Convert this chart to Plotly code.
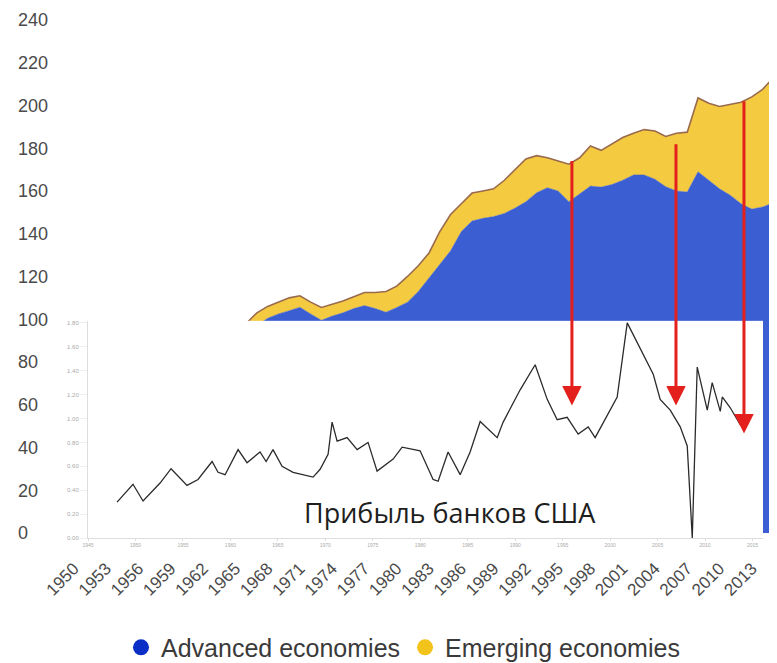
import plotly.graph_objects as go

# Основной график (стек): годы и значения
years = list(range(1966, 2017))
advanced = [92, 97, 100.5, 102.5, 104, 105.6, 102.5, 99.5, 101.5, 103,
            105, 106.4, 105, 103.3, 105.5, 108, 113, 119.5, 125.5, 132,
            141, 146, 147.2, 148, 149.5, 152, 155, 159.2, 161.5, 160,
            155, 158.5, 162.3, 161.8, 163, 165, 167.5, 167.5, 165.5, 162,
            160, 159.5, 169, 165, 161, 158, 154, 151.5, 152.5, 154.5, 156]
emerging = [6, 6, 5.5, 5.5, 6, 5.4, 5.5, 6, 5.5, 5.5,
            5.5, 6.1, 7.5, 9.7, 10, 12, 12, 11.5, 15.5, 17,
            13, 13, 12.8, 13, 15.5, 18, 20, 17.3, 14, 14,
            17.5, 17, 18.7, 17.2, 19, 20, 19.5, 21.2, 22.5, 23.5,
            27, 28, 34.5, 36, 38.5, 42.4, 47.5, 52.5, 55, 58.5, 62]
main_ticks = list(range(1950, 2017, 3))
y_ticks = list(range(0, 241, 20))

# Врезка: прибыль банков США
profit_t = [1948.06, 1949.74, 1950.80, 1952.59, 1953.75, 1955.43, 1956.59, 1958.07, 1958.70, 1959.44,
            1960.81, 1961.75, 1963.12, 1963.76, 1964.49, 1965.44, 1966.60, 1968.71, 1969.45, 1970.29,
            1970.71, 1971.24, 1972.29, 1973.35, 1974.50, 1975.45, 1977.14, 1978.09, 1979.98, 1981.35,
            1981.88, 1982.93, 1984.20, 1985.25, 1986.31, 1988.10, 1988.73, 1990.52, 1992.10, 1993.37,
            1994.42, 1995.47, 1996.63, 1997.69, 1998.42, 1999.69, 2000.74, 2001.80, 2003.17, 2004.54,
            2005.27, 2006.33, 2007.38, 2008.12, 2008.65, 2009.17, 2010.23, 2010.75, 2011.60, 2011.81,
            2012.65, 2013.70, 2014.23]
profit = [0.30, 0.45, 0.31, 0.46, 0.58, 0.44, 0.49, 0.64, 0.55, 0.53,
          0.74, 0.63, 0.72, 0.64, 0.74, 0.60, 0.55, 0.51, 0.575, 0.70,
          0.97, 0.81, 0.84, 0.74, 0.80, 0.56, 0.66, 0.76, 0.73, 0.49,
          0.475, 0.72, 0.53, 0.72, 0.975, 0.84, 0.97, 1.24, 1.45, 1.16,
          0.99, 1.01, 0.87, 0.93, 0.84, 1.02, 1.18, 1.80, 1.59, 1.37,
          1.16, 1.07, 0.93, 0.77, 0.0, 1.43, 1.07, 1.30, 1.06, 1.18,
          1.09, 0.95, 0.91]
inset_xticks = list(range(1945, 2016, 5))
inset_yticks = [0.0, 0.2, 0.4, 0.6, 0.8, 1.0, 1.2, 1.4, 1.6, 1.8]

# Стрелки: год, начало, конец (в единицах основного графика)
arrow_years = [1996.28, 2005.95, 2012.27]
arrow_top = [174.7, 182.6, 202.7]
arrow_tip = [59.6, 59.6, 46.6]

fig = go.Figure()

fig.add_trace(go.Scatter(x=years, y=advanced, stackgroup='debt', mode='lines',
                         line=dict(color='#3b5fd3', width=0.5), fillcolor='#3b5fd3',
                         showlegend=False, hoverinfo='skip'))
fig.add_trace(go.Scatter(x=years, y=emerging, stackgroup='debt', mode='lines',
                         line=dict(color='#9a6a4e', width=1.6), fillcolor='#f4cb40',
                         showlegend=False, hoverinfo='skip'))

# Легенда кружками
fig.add_trace(go.Scatter(x=[None], y=[None], mode='markers', name='Advanced economies',
                         marker=dict(size=16, color='#0b2ec6')))
fig.add_trace(go.Scatter(x=[None], y=[None], mode='markers', name='Emerging economies',
                         marker=dict(size=16, color='#f2c31a')))

# Линия прибыли банков на врезке
fig.add_trace(go.Scatter(x=profit_t, y=profit, mode='lines', xaxis='x2', yaxis='y2',
                         line=dict(color='#2b2b2b', width=1.3), showlegend=False, hoverinfo='skip'))

FONT = 'Liberation Sans, Arial, sans-serif'

# страница сдвинута на 8px (отступ body), поэтому координаты окна считаем от OFF
OFF = 8
W, H = 769, 663
L, R, T, B = 7, 0, 1, 123
pw, ph = W - L - R, H - T - B


def fx(px):
    return (px - OFF - L) / pw


def fy(py):
    return (H - B - (py - OFF)) / ph


fig.update_layout(
    width=W, height=H,
    margin=dict(l=L, r=R, t=T, b=B),
    paper_bgcolor='white', plot_bgcolor='white',
    xaxis=dict(range=[1944.52, 2015.34], tickvals=main_ticks, tickangle=-45,
               tickfont=dict(family=FONT, size=17, color='#4a4a4a'),
               showgrid=False, zeroline=False, showline=False,
               ticks='outside', ticklen=5, tickcolor='rgba(0,0,0,0)'),
    yaxis=dict(range=[-6.06, 245.1], tickvals=y_ticks, ticklabelposition='inside',
               tickfont=dict(family=FONT, size=18, color='#4a4a4a'),
               showgrid=False, zeroline=False, showline=False, ticks=''),
    xaxis2=dict(domain=[fx(88), fx(763)], anchor='y2', range=[1945, 2016.1],
                tickvals=inset_xticks, tickfont=dict(family=FONT, size=5, color='#aaaaaa'),
                showgrid=False, zeroline=False,
                showline=True, linecolor='#dddddd', linewidth=1, ticks='outside',
                ticklen=2, tickcolor='#dddddd'),
    yaxis2=dict(domain=[fy(540), fy(322)], anchor='x2', range=[0, 1.817],
                tickvals=inset_yticks, tickformat='.2f', ticksuffix='%',
                tickfont=dict(family=FONT, size=6, color='#aaaaaa'),
                showgrid=False, zeroline=False, showline=True, linecolor='#dddddd',
                linewidth=1, ticks='outside', ticklen=7, tickcolor='#eeeeee'),
    legend=dict(orientation='h', x=fx(403), xanchor='center', y=fy(650), yanchor='middle',
                font=dict(family=FONT, size=25, color='#3a3a3a'),
                traceorder='normal', itemsizing='trace'),
)

fig.add_annotation(x=1983.1, y=0.21, xref='x2', yref='y2', text='Прибыль банков США',
                   showarrow=False, font=dict(family='Open Sans, Noto Sans, sans-serif', size=27, color='#1e1e1e'))

for ax_year, top, tip in zip(arrow_years, arrow_top, arrow_tip):
    fig.add_annotation(x=ax_year, y=tip, ax=ax_year, ay=top, xref='x', yref='y',
                       axref='x', ayref='y', text='', showarrow=True,
                       arrowhead=2, arrowsize=1.3, arrowwidth=3, arrowcolor='#e3201b')

fig.write_html("out.html", config={'displayModeBar': False})
